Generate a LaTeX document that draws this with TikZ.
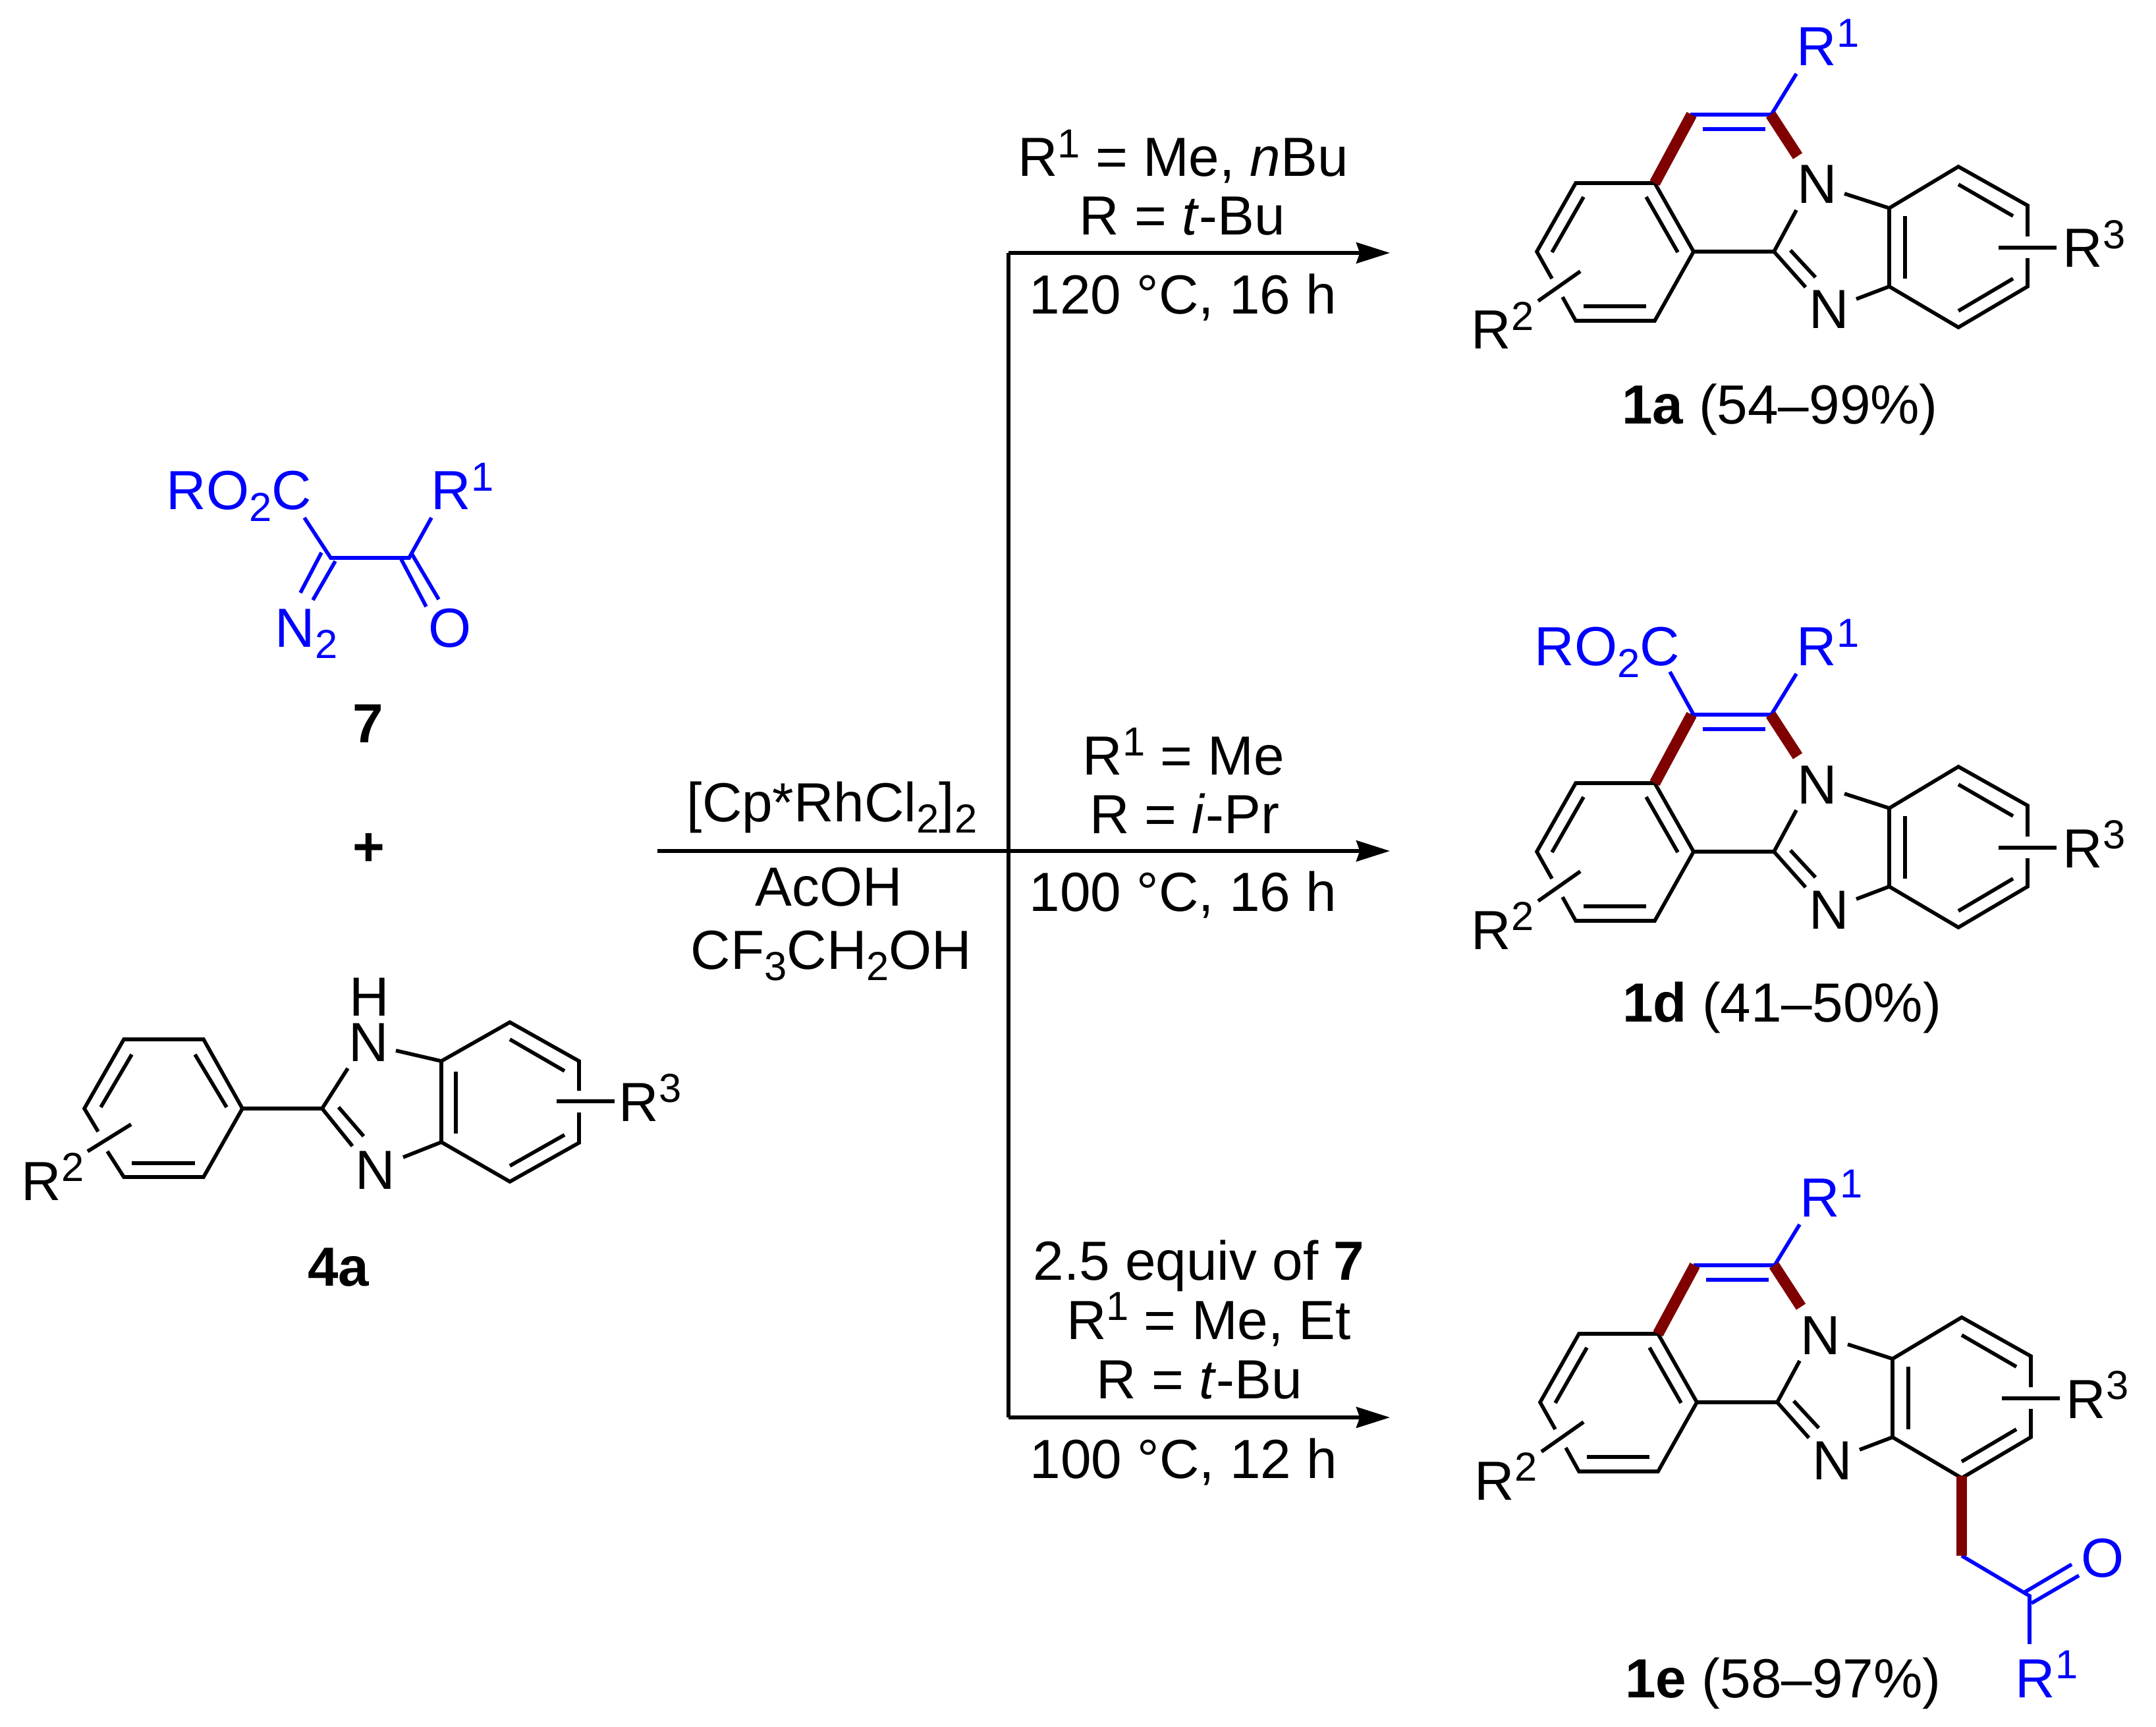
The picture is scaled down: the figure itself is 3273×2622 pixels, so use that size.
\documentclass[tikz,border=0pt]{standalone}
\usepackage{fontspec}
\setmainfont{Liberation Sans}
\usetikzlibrary{arrows.meta}

\definecolor{addblue}{RGB}{0,0,255}
\definecolor{newbond}{RGB}{128,0,0}

\newcommand{\supnum}[1]{\raisebox{8pt}{\fontsize{17.5}{17.5}\selectfont #1}}
\newcommand{\subnum}[1]{\raisebox{-5pt}{\fontsize{17.5}{17.5}\selectfont #1}}

% Fused ring skeleton shared by the products
\newcommand{\fusedcore}[3]{
  \begin{scope}[shift={(#2,#3)}]
    % Left ring
    \draw (2356,423) -- (2333,382) -- (2392,278) -- (2512,278) -- (2571,382) -- (2512,487) -- (2392,487) -- (2372,451);
    \draw (2335,457) -- (2399,412);
    % Imidazole
    \draw (2571,382) -- (2693,382) -- (2727,319);
    \draw (2693,382) -- (2741,436);
    \draw (2800,294) -- (2868,316);
    \draw (2818,454) -- (2868,435);
    % Right ring
    \draw (3078,359) -- (3078,312) -- (2973,253) -- (2868,316) -- (2868,435) -- (2973,497) -- (3078,435) -- (3078,392);
    \draw (3034,376) -- (3122,376);
    % Inner lines
    \foreach \a/\b in {{2404,299}/{2356,383}, {2499,299}/{2547,383}, {2404,465}/{2499,465},
                       {2718,380}/{2756,421}, {2973,280}/{3056,328}, {2892,328}/{2892,423},
                       {2973,472}/{3056,423}} {
      \draw (\a) -- (\b);
    };
    % Blue part
    \draw[addbond] (2566,174) -- (2689,174) -- (2727,112);
    \draw[addbond] (2585,196) -- (2680,196);
    \draw[formed] (2512,278) -- (2568,174);
    \draw[formed] (2688,174) -- (2729,237);
    % Atoms
    \node[atom,anchor=base] (#1n1) at (2759,309) {N};
    \node[atom,anchor=base] (#1n2) at (2777,499) {N};
    \node[atom,anchor=base west] (#1r2) at (2231,530) {R\supnum{2}};
    \node[atom,anchor=base west] (#1r3) at (3129,406) {R\supnum{3}};
    \node[atom,anchor=base west,text=addblue] (#1r1) at (2725,100) {R\supnum{1}};
  \end{scope}
}

\begin{document}
\begin{tikzpicture}[x=0.01cm, y=-0.01cm, line width=1.6pt,
    atom/.style={inner sep=0pt, font=\fontsize{23.8}{24}\selectfont},
    cond/.style={atom, anchor=base},
    cpd/.style={atom, anchor=base, font=\fontsize{23.8}{24}\selectfont\bfseries},
    addbond/.style={draw=addblue},
    formed/.style={draw=newbond, line width=4.8pt},
    yield/.style={->, >={Stealth[length=14.5pt, width=9pt, inset=1.5pt]}}]
  \useasboundingbox (0,0) rectangle (3273,2622);

  % Diazo compound
  \draw[addbond] (462,786) -- (502,847) -- (621,847) -- (655,786);
  \draw[addbond] (488,839) -- (456,900);
  \draw[addbond] (509,852) -- (475,911);
  \draw[addbond] (609,849) -- (647,921);
  \draw[addbond] (624,839) -- (666,910);
  \node[atom,anchor=base west,text=addblue] (ester) at (250,774) {RO\subnum{2}C};
  \node[atom,anchor=base west,text=addblue] (rone) at (652,774) {R\supnum{1}};
  \node[atom,anchor=base west,text=addblue] (diazo) at (415,982) {N\subnum{2}};
  \node[atom,anchor=base,text=addblue] (oxo) at (683,982) {O};
  \node[cpd] (seven) at (559,1127) {7};
  \node[cpd] (plus) at (560,1314) {+};

  % Benzimidazole
  \draw (149,1718) -- (128,1683) -- (188,1578) -- (309,1578) -- (368,1683) -- (309,1787) -- (188,1787) -- (163,1748);
  \draw (133,1748) -- (199,1707);
  \draw (368,1683) -- (489,1683) -- (528,1622);
  \draw (489,1683) -- (535,1740);
  \draw (601,1595) -- (670,1611);
  \draw (612,1757) -- (670,1734);
  \draw (879,1656) -- (879,1611) -- (774,1552) -- (670,1611) -- (670,1734) -- (774,1794) -- (879,1735) -- (879,1689);
  \draw (845,1672) -- (933,1672);
  \foreach \a/\b in {{200,1601}/{153,1681}, {296,1601}/{344,1681}, {200,1766}/{296,1766},
                     {514,1681}/{552,1725}, {774,1578}/{857,1626}, {692,1627}/{692,1721},
                     {774,1770}/{857,1723}} {
    \draw (\a) -- (\b);
  };
  \node[atom,anchor=base] (hyd) at (561,1542) {H};
  \node[atom,anchor=base] (nh) at (560,1611) {N};
  \node[atom,anchor=base] (nbot) at (570,1805) {N};
  \node[atom,anchor=base west] (rtwo) at (30,1822) {R\supnum{2}};
  \node[atom,anchor=base west] (rthree) at (937,1702) {R\supnum{3}};
  \node[cpd] (foura) at (514,1952) {4a};

  % Arrows
  \coordinate (start) at (998,1292);
  \coordinate (fork) at (1531,1292);
  \coordinate (forktop) at (1531,384);
  \coordinate (forkbot) at (1531,2152);
  \coordinate (tiptop) at (2110,384);
  \coordinate (tipmid) at (2110,1292);
  \coordinate (tipbot) at (2110,2152);
  \draw[yield] (start) -- (tipmid);
  \draw[yield] (forktop) -- (tiptop);
  \draw[yield] (forkbot) -- (tipbot);
  \draw (forktop) -- (forkbot);

  % Conditions
  \node[cond] (cata) at (1263,1247) {[Cp*RhCl\subnum{2}]\subnum{2}};
  \node[cond] (acid) at (1258,1375) {AcOH};
  \node[cond] (solv) at (1262,1471) {CF\subnum{3}CH\subnum{2}OH};
  \node[cond] (ta) at (1796,268) {R\supnum{1} = Me, \textit{n}Bu};
  \node[cond] (tb) at (1795,357) {R = \textit{t}-Bu};
  \node[cond] (tc) at (1796,477) {120 °C, 16 h};
  \node[cond] (ma) at (1797,1176) {R\supnum{1} = Me};
  \node[cond] (mb) at (1798,1265) {R = \textit{i}-Pr};
  \node[cond] (mc) at (1796,1383) {100 °C, 16 h};
  \node[cond] (ba) at (1820,1943) {2.5 equiv of \textbf{7}};
  \node[cond] (bb) at (1835,2033) {R\supnum{1} = Me, Et};
  \node[cond] (bc) at (1821,2123) {R = \textit{t}-Bu};
  \node[cond] (bd) at (1797,2244) {100 °C, 12 h};

  % Products
  \fusedcore{pa}{0}{0}
  \node[cond] (paname) at (2702,644) {\textbf{1a} (54–99\%)};

  \fusedcore{pd}{0}{911}
  \draw[addbond] (2535,1020) -- (2571,1085);
  \node[atom,anchor=base west,text=addblue] (pdester) at (2327,1011) {RO\subnum{2}C};
  \node[cond] (pdname) at (2705,1551) {\textbf{1d} (41–50\%)};

  \fusedcore{pe}{5}{1747}
  \draw[addbond] (2978,2362) -- (3081,2423) -- (3081,2496);
  \draw[addbond] (3074,2417) -- (3145,2375);
  \draw[addbond] (3084,2434) -- (3156,2392);
  \draw[formed] (2978,2241) -- (2978,2362);
  \node[atom,anchor=base,text=addblue] (peoxo) at (3192,2394) {O};
  \node[atom,anchor=base west,text=addblue] (perone) at (3057,2577) {R\supnum{1}};
  \node[cond] (pename) at (2707,2577) {\textbf{1e} (58–97\%)};
\end{tikzpicture}
\end{document}
